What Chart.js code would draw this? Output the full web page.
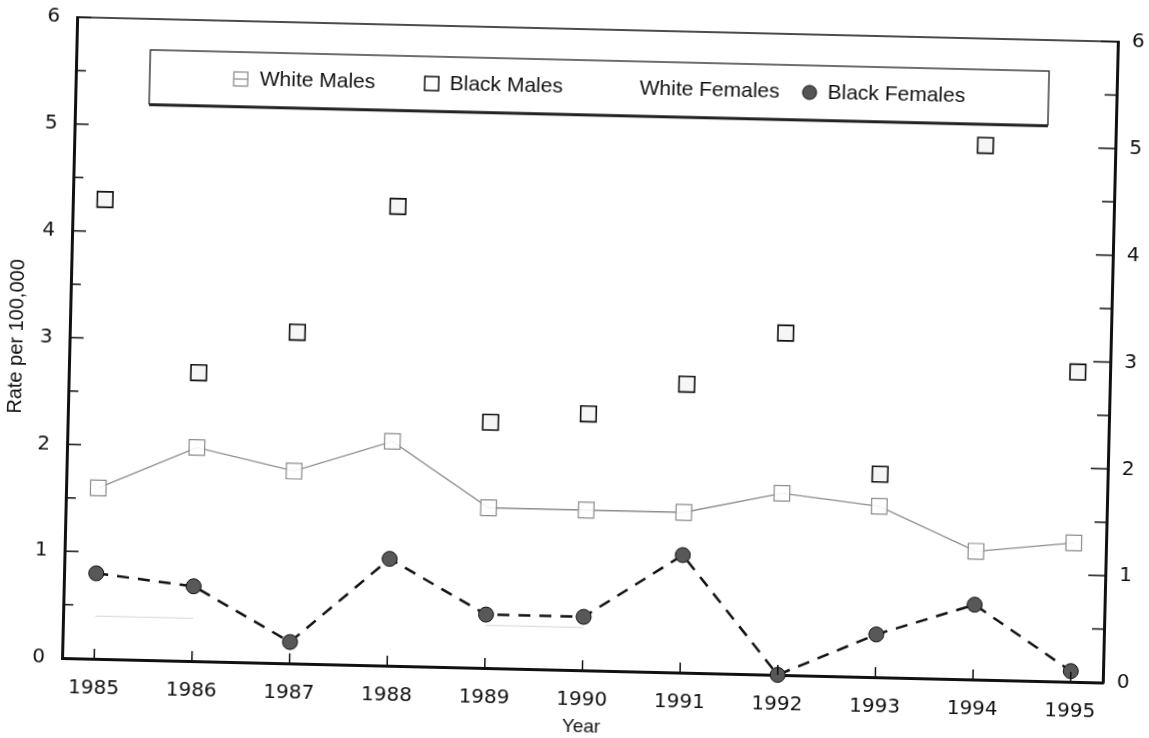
<!DOCTYPE html>
<html>
<head>
<meta charset="utf-8">
<script src="https://cdn.jsdelivr.net/npm/chart.js@4.4.1/dist/chart.umd.min.js"></script>
<style>
  html, body { margin: 0; padding: 0; background: #ffffff; overflow: hidden; }
  #wrap { width: 1149px; height: 738px; transform: rotate(1.35deg); transform-origin: 50% 50%; }
  canvas { display: block; }
</style>
</head>
<body>
<div id="wrap"><canvas id="c" width="1149" height="738"></canvas></div>
<script>
// ---- Data ----
const years = [1985, 1986, 1987, 1988, 1989, 1990, 1991, 1992, 1993, 1994, 1995];
const whiteMales   = [1.6, 2.0, 1.8, 2.1, 1.5, 1.5, 1.5, 1.7, 1.6, 1.2, 1.3];
const blackMales   = [4.3, 2.7, 3.1, 4.3, 2.3, 2.4, 2.7, 3.2, 1.9, 5.0, 2.9];
const whiteFemales = [0.4, 0.4, null, null, 0.4, 0.4, null, null, null, null, null];
const blackFemales = [0.8, 0.7, 0.2, 1.0, 0.5, 0.5, 1.1, 0.0, 0.4, 0.7, 0.1];
const yTicks = [0, 1, 2, 3, 4, 5, 6];
const seriesLabels = ['White Males', 'Black Males', 'White Females', 'Black Females'];
const xTitle = 'Year';
const yTitle = 'Rate per 100,000';

const toXY = arr => years.map((y, i) => ({ x: y, y: arr[i] }));

const tickFont = { family: 'DejaVu Sans', size: 20 };

// inward tick marks, top frame line, legend box
const decor = {
  id: 'decor',
  afterDraw(chart) {
    const ctx = chart.ctx;
    const a = chart.chartArea;
    const ys = chart.scales.y, xs = chart.scales.x;
    ctx.save();
    ctx.strokeStyle = '#111';
    // top frame
    ctx.lineWidth = 1.5;
    ctx.beginPath(); ctx.moveTo(a.left, a.top); ctx.lineTo(a.right, a.top); ctx.stroke();
    // y ticks (inward)
    ctx.lineWidth = 1.5;
    for (let v = 0; v <= 6.001; v += 0.5) {
      const py = ys.getPixelForValue(v);
      const major = Math.abs(v - Math.round(v)) < 1e-6;
      ctx.beginPath(); ctx.moveTo(a.left, py); ctx.lineTo(a.left + (major ? 14 : 10), py); ctx.stroke();
      ctx.beginPath(); ctx.moveTo(a.right, py); ctx.lineTo(a.right - (major ? 17 : 12), py); ctx.stroke();
    }
    // x ticks (inward)
    years.forEach(yr => {
      const px = xs.getPixelForValue(yr);
      ctx.beginPath(); ctx.moveTo(px, a.bottom); ctx.lineTo(px, a.bottom - 10); ctx.stroke();
    });
    // legend box
    const bx = 143, by = 60, bw = 899, bh = 54;
    ctx.lineWidth = 1.3;
    ctx.strokeStyle = '#222';
    ctx.strokeRect(bx, by, bw, bh);
    ctx.lineWidth = 2.5;
    ctx.beginPath(); ctx.moveTo(bx, by + bh + 1); ctx.lineTo(bx + bw, by + bh + 1); ctx.stroke();
    const cy = 87;
    ctx.font = '21px "Liberation Sans", Arial, sans-serif';
    ctx.fillStyle = '#111';
    ctx.textBaseline = 'middle';
    ctx.textAlign = 'left';
    // White Males marker
    ctx.lineWidth = 1.2; ctx.strokeStyle = '#888';
    ctx.strokeRect(234 - 7, cy - 7, 14, 14);
    ctx.beginPath(); ctx.moveTo(227, cy); ctx.lineTo(241, cy); ctx.stroke();
    ctx.fillText(seriesLabels[0], 253, cy);
    // Black Males marker
    ctx.lineWidth = 1.5; ctx.strokeStyle = '#111';
    ctx.strokeRect(425 - 7, cy - 7, 14, 14);
    ctx.fillText(seriesLabels[1], 443, cy);
    // White Females (no visible marker)
    ctx.fillText(seriesLabels[2], 633, cy);
    // Black Females marker
    ctx.beginPath(); ctx.arc(803, cy, 7, 0, Math.PI * 2);
    ctx.fillStyle = '#555'; ctx.fill();
    ctx.lineWidth = 1; ctx.strokeStyle = '#111'; ctx.stroke();
    ctx.fillStyle = '#111';
    ctx.fillText(seriesLabels[3], 821, cy);
    ctx.restore();
  }
};

new Chart(document.getElementById('c'), {
  type: 'line',
  data: {
    datasets: [
      {
        label: seriesLabels[0], data: toXY(whiteMales),
        borderColor: '#8c8c8c', borderWidth: 1.3, backgroundColor: '#ffffff',
        pointStyle: 'rect', pointRadius: 11, pointBorderColor: '#8c8c8c', pointBorderWidth: 1.2,
        pointBackgroundColor: 'rgba(255,255,255,0.9)', tension: 0, clip: false
      },
      {
        label: seriesLabels[1], data: toXY(blackMales), showLine: false,
        pointStyle: 'rect', pointRadius: 11, pointBorderColor: '#111', pointBorderWidth: 1.6,
        pointBackgroundColor: '#f6f6f6', clip: false
      },
      {
        label: seriesLabels[2], data: toXY(whiteFemales),
        borderColor: '#d6d6d6', borderWidth: 1, pointRadius: 0, spanGaps: false, clip: false
      },
      {
        label: seriesLabels[3], data: toXY(blackFemales),
        borderColor: '#111', borderWidth: 2.5, borderDash: [12, 9], tension: 0,
        pointStyle: 'circle', pointRadius: 7.5, pointBackgroundColor: '#585858',
        pointBorderColor: '#111', pointBorderWidth: 1, clip: false
      }
    ]
  },
  options: {
    responsive: false,
    animation: false,
    events: [],
    layout: { padding: { top: 26, left: 0, right: 0, bottom: 0 } },
    plugins: { legend: { display: false }, tooltip: { enabled: false } },
    scales: {
      x: {
        type: 'linear', position: 'bottom', min: 1984.67, max: 1995.33,
        afterBuildTicks: s => { s.ticks = years.map(v => ({ value: v })); },
        afterFit: s => { s.height = 68; },
        grid: { display: false, drawTicks: false },
        border: { display: true, color: '#111', width: 3 },
        ticks: { font: tickFont, color: '#111', padding: 18, maxRotation: 0, autoSkip: false, callback: v => String(v) },
        title: { display: true, text: xTitle, color: '#111', font: { family: 'Liberation Sans', size: 19 }, padding: { top: 0, bottom: 0 } }
      },
      y: {
        type: 'linear', position: 'left', min: 0, max: 6,
        afterBuildTicks: s => { s.ticks = yTicks.map(v => ({ value: v })); },
        afterFit: s => { s.width = 69; },
        grid: { display: false, drawTicks: false },
        border: { display: true, color: '#111', width: 3 },
        ticks: { font: tickFont, color: '#111', padding: 17, callback: v => String(v) },
        title: { display: true, text: yTitle, color: '#111', font: { family: 'Liberation Sans', size: 20 }, padding: { top: 4, bottom: 0 } }
      },
      y2: {
        type: 'linear', position: 'right', min: 0, max: 6,
        afterBuildTicks: s => { s.ticks = yTicks.map(v => ({ value: v })); },
        afterFit: s => { s.width = 39; },
        grid: { display: false, drawTicks: false },
        border: { display: true, color: '#111', width: 3 },
        ticks: { font: tickFont, color: '#111', padding: 14, callback: v => String(v) }
      }
    }
  },
  plugins: [decor]
});
</script>
</body>
</html>
